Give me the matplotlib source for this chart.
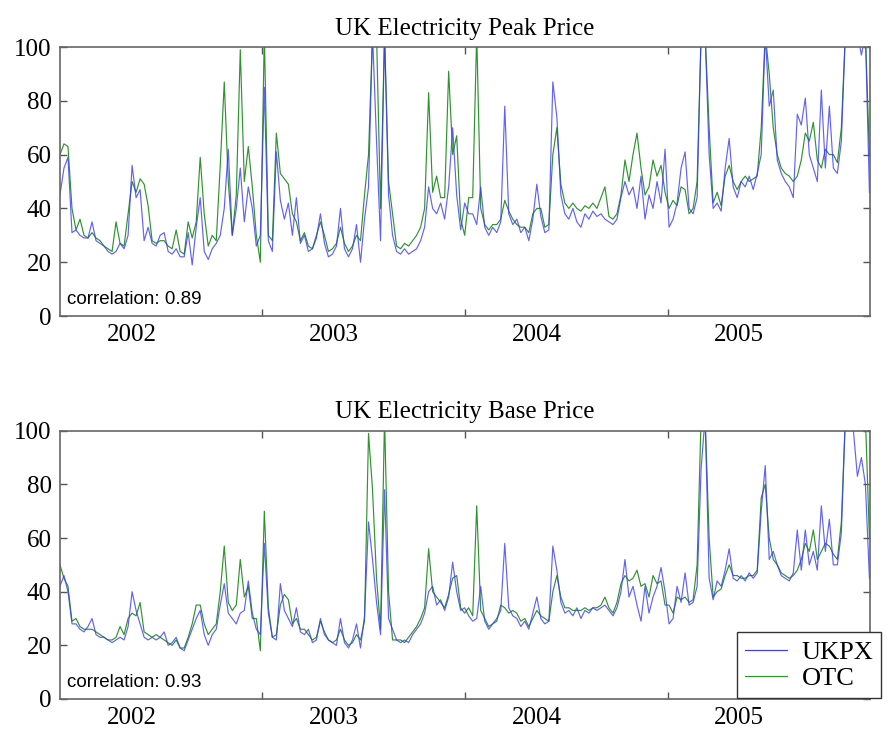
import matplotlib
matplotlib.use('Agg')
import matplotlib.pyplot as plt
import pandas as pd

plt.rcParams['font.family'] = ['Liberation Serif', 'DejaVu Serif']

# Precos diarios (uma leitura a cada ~7 dias), 2002 a 2005
peak_ukpx = [45, 55, 59, 31, 32, 30, 29, 29, 35, 28, 27, 26, 24, 23, 24, 27, 25, 30, 56, 44,
             47, 28, 33, 27, 26, 30, 31, 24, 23, 25, 22, 22, 31, 19, 33, 44, 24, 21, 25, 27,
             30, 40, 62, 30, 40, 55, 35, 48, 40, 26, 30, 85,
             28, 24, 61, 43, 36, 42, 30, 44, 27, 30, 24, 25, 29, 38, 27, 22, 23, 26, 40, 25,
             22, 25, 34, 20, 36, 48, 105, 65, 28, 105, 45, 30, 24, 23, 25, 23, 24, 25, 28, 33,
             48, 40, 38, 42, 36, 48, 70, 45, 32, 42, 38,
             38, 34, 48, 33, 30, 33, 31, 35, 78, 38, 34, 36, 31, 33, 28, 36, 49, 37, 31, 32,
             87, 74, 45, 38, 36, 40, 35, 33, 38, 36, 39, 37, 38, 36, 35, 34, 36, 44, 50, 45,
             48, 40, 52, 36, 45, 40, 50, 42, 62, 33,
             36, 42, 55, 61, 40, 38, 44, 105, 105, 60, 40, 42, 39, 55, 66, 48, 44, 50, 48, 52,
             47, 53, 60, 105, 78, 84, 58, 53, 50, 48, 44, 75, 71, 81, 60, 55, 50, 84, 55, 78,
             55, 53, 65, 105, 105, 105, 105, 97, 105, 46]
peak_otc = [60, 64, 63, 40, 32, 36, 30, 29, 31, 29, 28, 26, 25, 24, 35, 27, 26, 38, 50, 46,
            51, 49, 41, 28, 27, 28, 28, 26, 25, 32, 24, 23, 35, 29, 35, 59, 38, 26, 30, 28,
            56, 87, 50, 30, 45, 99, 50, 63, 48, 30, 20, 105,
            30, 28, 68, 53, 51, 49, 38, 35, 28, 31, 26, 25, 30, 35, 30, 24, 25, 27, 33, 27,
            24, 26, 30, 28, 45, 60, 105, 105, 40, 105, 50, 38, 26, 25, 27, 26, 28, 30, 33, 40,
            83, 46, 52, 44, 44, 91, 60, 67, 36, 30, 44,
            44, 105, 40, 34, 32, 34, 34, 36, 43, 39, 36, 34, 33, 33, 31, 38, 40, 40, 33, 34,
            60, 70, 49, 42, 40, 42, 40, 39, 41, 40, 42, 40, 44, 48, 37, 36, 38, 45, 58, 50,
            60, 68, 55, 45, 48, 58, 52, 56, 46, 40,
            43, 41, 48, 47, 38, 40, 50, 105, 105, 70, 42, 46, 41, 52, 56, 50, 47, 50, 52, 50,
            51, 52, 70, 105, 90, 70, 60, 55, 53, 52, 50, 52, 58, 68, 65, 72, 58, 55, 62, 60,
            60, 57, 70, 105, 105, 105, 105, 105, 105, 60]
base_ukpx = [42, 46, 40, 28, 28, 26, 25, 27, 30, 24, 23, 23, 22, 21, 22, 23, 22, 27, 40, 33,
             28, 23, 22, 23, 22, 23, 25, 20, 21, 23, 19, 18, 22, 26, 30, 33, 24, 20, 24, 26,
             35, 43, 32, 30, 28, 32, 33, 44, 32, 26, 24, 58,
             32, 23, 22, 43, 33, 30, 27, 34, 25, 24, 26, 21, 22, 30, 24, 22, 21, 20, 30, 21,
             19, 22, 28, 19, 31, 66, 52, 36, 24, 78, 30, 26, 22, 21, 22, 21, 24, 26, 28, 32,
             40, 42, 35, 37, 33, 38, 51, 40, 33, 34, 31,
             29, 30, 42, 29, 26, 28, 30, 33, 58, 34, 31, 30, 27, 29, 26, 32, 38, 30, 28, 29,
             57, 48, 36, 32, 33, 31, 34, 30, 33, 32, 34, 33, 34, 35, 33, 31, 34, 40, 52, 38,
             42, 35, 29, 42, 32, 38, 42, 49, 40, 28,
             30, 42, 36, 47, 35, 36, 42, 86, 105, 45, 37, 44, 42, 48, 56, 45, 44, 46, 44, 47,
             45, 47, 70, 87, 52, 55, 50, 46, 45, 44, 47, 63, 48, 63, 50, 55, 48, 72, 55, 67,
             50, 50, 62, 105, 105, 100, 83, 90, 80, 45]
base_otc = [50, 45, 42, 29, 30, 27, 26, 26, 26, 25, 24, 23, 22, 22, 23, 27, 24, 30, 32, 31,
            36, 25, 24, 23, 24, 23, 22, 21, 20, 22, 19, 19, 23, 28, 35, 35, 28, 24, 26, 28,
            40, 57, 36, 33, 35, 52, 38, 42, 30, 30, 18, 70,
            34, 23, 24, 35, 39, 37, 28, 30, 26, 26, 24, 22, 23, 29, 25, 22, 21, 22, 26, 22,
            20, 21, 24, 22, 29, 99, 78, 45, 26, 105, 40, 22, 22, 22, 21, 23, 25, 27, 30, 34,
            56, 40, 38, 36, 34, 39, 45, 46, 34, 32, 34,
            31, 72, 33, 30, 27, 28, 29, 35, 34, 32, 33, 32, 29, 30, 27, 30, 33, 31, 30, 29,
            40, 46, 38, 34, 34, 33, 33, 33, 34, 33, 34, 34, 35, 38, 34, 32, 36, 43, 46, 44,
            45, 48, 42, 43, 38, 46, 43, 44, 35, 35,
            32, 38, 37, 38, 36, 37, 50, 105, 105, 60, 38, 40, 41, 46, 50, 46, 46, 45, 45, 46,
            46, 48, 75, 80, 60, 52, 50, 47, 46, 45, 46, 48, 52, 58, 55, 63, 52, 55, 58, 57,
            54, 52, 66, 105, 105, 105, 100, 105, 105, 60]

titulos = ['UK Electricity Peak Price', 'UK Electricity Base Price']
correlacoes = ['correlation: 0.89', 'correlation: 0.93']
anos = ['2002', '2003', '2004', '2005']

datas = pd.date_range('2002-01-01', '2005-12-31', periods=len(peak_ukpx))
limites_anos = [pd.Timestamp('2003-01-01'), pd.Timestamp('2004-01-01'), pd.Timestamp('2005-01-01')]
posicoes_rotulos = [pd.Timestamp(a + '-05-10') for a in anos]

fig = plt.figure(figsize=(8.91, 7.31), dpi=100)
ax1 = fig.add_axes([0.0673, 0.5677, 0.9091, 0.368])
ax2 = fig.add_axes([0.0673, 0.0438, 0.9091, 0.367])

cor_azul = '#3b3bf2'
cor_verde = '#2f932f'

series = [(ax1, peak_ukpx, peak_otc), (ax2, base_ukpx, base_otc)]
for k, (ax, ukpx, otc) in enumerate(series):
    l_otc, = ax.plot(datas, otc, color=cor_verde, lw=0.85)
    l_ukpx, = ax.plot(datas, ukpx, color=cor_azul, lw=0.85, alpha=0.8)
    ax.set_ylim(0, 100)
    ax.set_xlim(pd.Timestamp('2002-01-01'), pd.Timestamp('2006-01-01'))
    ax.set_yticks([0, 20, 40, 60, 80, 100])
    ax.set_xticks(limites_anos)
    ax.set_xticklabels([])
    ax.set_xticks(posicoes_rotulos, minor=True)
    ax.set_xticklabels(anos, minor=True)
    ax.tick_params(which='major', direction='in', top=True, right=True, length=5,
                   width=1, color='#555555', labelsize=18, pad=6)
    ax.tick_params(axis='x', which='minor', length=0, labelsize=18, pad=6)
    for s in ax.spines.values():
        s.set_color('#666666')
        s.set_linewidth(1.2)
    ax.set_title(titulos[k], fontsize=18, pad=9)
    ax.text(0.009, 0.06, correlacoes[k], transform=ax.transAxes, va='center', ha='left',
            fontsize=13.5, family=['Liberation Sans', 'DejaVu Sans'])

leg = ax2.legend([l_ukpx, l_otc], ['UKPX', 'OTC'], loc='lower left',
                 bbox_to_anchor=(0.836, 0.004), fontsize=19, frameon=True,
                 fancybox=False, framealpha=1, edgecolor='#333333', borderaxespad=0,
                 handlelength=1.6, handletextpad=0.55, labelspacing=0.1, borderpad=0.3)
leg.get_frame().set_linewidth(1.0)
for h in leg.get_lines():
    h.set_alpha(1)

fig.savefig('out.png', dpi=100)
